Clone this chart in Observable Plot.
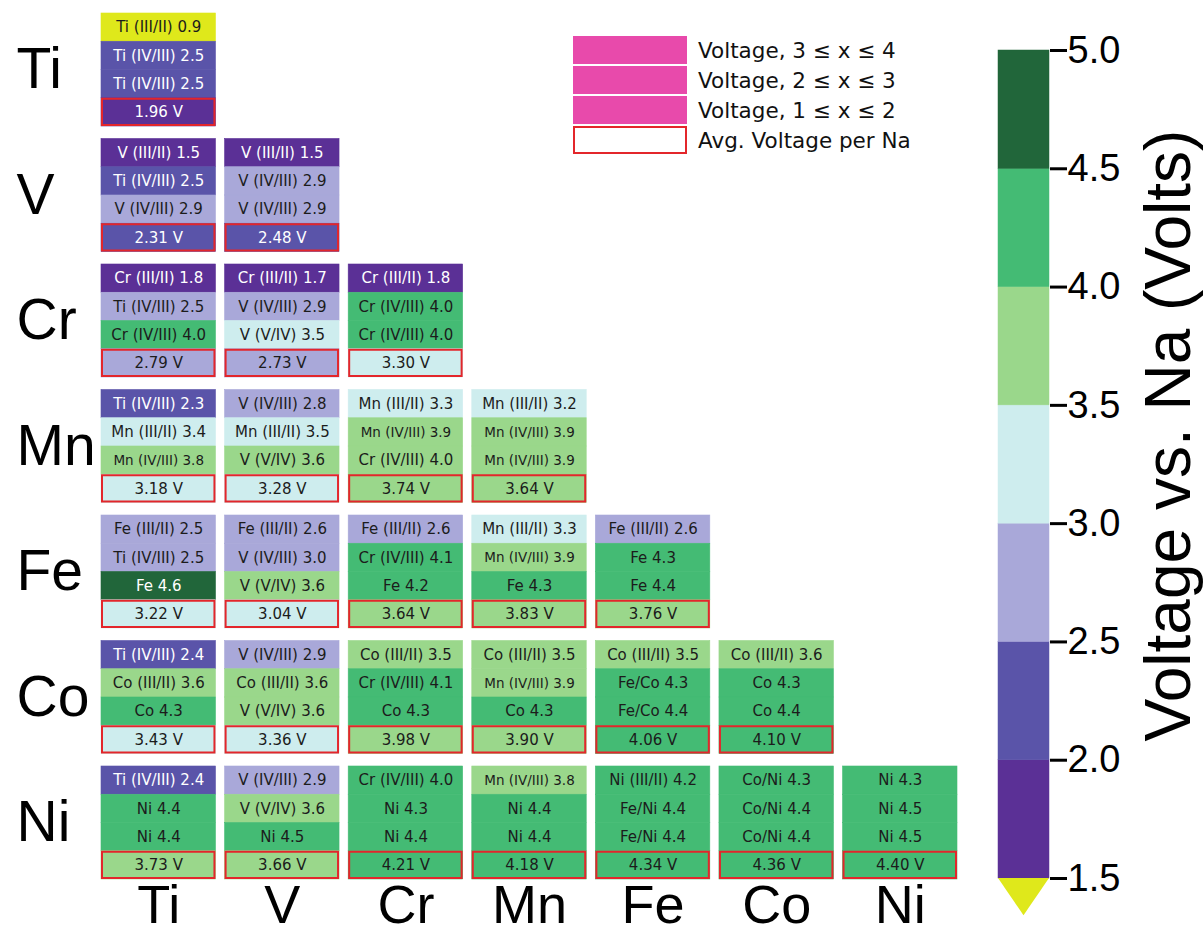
<!DOCTYPE html>
<html><head><meta charset="utf-8">
<script src="https://cdn.jsdelivr.net/npm/d3@7"></script>
<script src="https://cdn.jsdelivr.net/npm/@observablehq/plot@0.6"></script>
<style>
body{margin:0;background:#fff;}
#wrap{position:relative;width:1204px;height:937px;overflow:hidden;background:#fff;}
#main{position:absolute;left:0;top:0;}
#cbar{position:absolute;left:964px;top:0;}
#cbar svg{overflow:visible;}
#legend{position:absolute;left:573px;top:36px;font-family:"DejaVu Sans",sans-serif;font-size:21.5px;color:#111;}
.lrow{display:flex;align-items:center;height:28px;margin-bottom:2px;white-space:nowrap;}
.lbox{width:114px;height:28px;box-sizing:border-box;margin-right:11px;flex:none;}
</style></head><body>
<div id="wrap"><div id="main"></div><div id="legend"></div><div id="cbar"></div></div>
<script>
// ---------- data ----------
const elements = ["Ti", "V", "Cr", "Mn", "Fe", "Co", "Ni"];
const thresholds = [1.5, 2.0, 2.5, 3.0, 3.5, 4.0, 4.5];
const bandColors = ["#dfe81b", "#5b3096", "#5a54a9", "#a9a8d9", "#ceedee", "#9ad78b", "#44bb74", "#21663a"];
const cbarTicks = [1.5, 2.0, 2.5, 3.0, 3.5, 4.0, 4.5, 5.0];
const cbarTitle = "Voltage vs. Na (Volts)";
const legendLabels = ["Voltage, 3 ≤ x ≤ 4", "Voltage, 2 ≤ x ≤ 3", "Voltage, 1 ≤ x ≤ 2", "Avg. Voltage per Na"];
const legendFill = "#e84aab";
const avgStroke = "#e3262b";

// each entry: [column element, [[step label, voltage] x3], average voltage]
const rowTi = [
  ["Ti", [["Ti (III/II)", 0.9], ["Ti (IV/III)", 2.46], ["Ti (IV/III)", 2.46]], 1.96]
];
const rowV = [
  ["Ti", [["V (III/II)", 1.5], ["Ti (IV/III)", 2.46], ["V (IV/III)", 2.9]], 2.31],
  ["V",  [["V (III/II)", 1.5], ["V (IV/III)", 2.9], ["V (IV/III)", 2.9]], 2.48]
];
const rowCr = [
  ["Ti", [["Cr (III/II)", 1.8], ["Ti (IV/III)", 2.54], ["Cr (IV/III)", 4.02]], 2.79],
  ["V",  [["Cr (III/II)", 1.7], ["V (IV/III)", 2.9], ["V (V/IV)", 3.46]], 2.73],
  ["Cr", [["Cr (III/II)", 1.8], ["Cr (IV/III)", 4.02], ["Cr (IV/III)", 4.02]], 3.30]
];
const rowMn = [
  ["Ti", [["Ti (IV/III)", 2.3], ["Mn (III/II)", 3.4], ["Mn (IV/III)", 3.8]], 3.18],
  ["V",  [["V (IV/III)", 2.8], ["Mn (III/II)", 3.46], ["V (V/IV)", 3.6]], 3.28],
  ["Cr", [["Mn (III/II)", 3.3], ["Mn (IV/III)", 3.9], ["Cr (IV/III)", 3.96]], 3.74],
  ["Mn", [["Mn (III/II)", 3.2], ["Mn (IV/III)", 3.9], ["Mn (IV/III)", 3.9]], 3.64]
];
const rowFe = [
  ["Ti", [["Fe (III/II)", 2.54], ["Ti (IV/III)", 2.54], ["Fe", 4.6]], 3.22],
  ["V",  [["Fe (III/II)", 2.6], ["V (IV/III)", 2.96], ["V (V/IV)", 3.6]], 3.04],
  ["Cr", [["Fe (III/II)", 2.6], ["Cr (IV/III)", 4.1], ["Fe", 4.2]], 3.64],
  ["Mn", [["Mn (III/II)", 3.3], ["Mn (IV/III)", 3.9], ["Fe", 4.3]], 3.83],
  ["Fe", [["Fe (III/II)", 2.6], ["Fe", 4.3], ["Fe", 4.4]], 3.76]
];
const rowCo = [
  ["Ti", [["Ti (IV/III)", 2.4], ["Co (III/II)", 3.6], ["Co", 4.3]], 3.43],
  ["V",  [["V (IV/III)", 2.9], ["Co (III/II)", 3.6], ["V (V/IV)", 3.6]], 3.36],
  ["Cr", [["Co (III/II)", 3.52], ["Cr (IV/III)", 4.1], ["Co", 4.3]], 3.98],
  ["Mn", [["Co (III/II)", 3.52], ["Mn (IV/III)", 3.9], ["Co", 4.3]], 3.90],
  ["Fe", [["Co (III/II)", 3.52], ["Fe/Co", 4.3], ["Fe/Co", 4.4]], 4.06],
  ["Co", [["Co (III/II)", 3.6], ["Co", 4.3], ["Co", 4.4]], 4.10]
];
const rowNi = [
  ["Ti", [["Ti (IV/III)", 2.4], ["Ni", 4.4], ["Ni", 4.4]], 3.73],
  ["V",  [["V (IV/III)", 2.9], ["V (V/IV)", 3.6], ["Ni", 4.46]], 3.66],
  ["Cr", [["Cr (IV/III)", 4.02], ["Ni", 4.3], ["Ni", 4.4]], 4.21],
  ["Mn", [["Mn (IV/III)", 3.8], ["Ni", 4.4], ["Ni", 4.4]], 4.18],
  ["Fe", [["Ni (III/II)", 4.2], ["Fe/Ni", 4.4], ["Fe/Ni", 4.4]], 4.34],
  ["Co", [["Co/Ni", 4.3], ["Co/Ni", 4.4], ["Co/Ni", 4.4]], 4.36],
  ["Ni", [["Ni", 4.3], ["Ni", 4.46], ["Ni", 4.46]], 4.40]
];
const rows = {Ti: rowTi, V: rowV, Cr: rowCr, Mn: rowMn, Fe: rowFe, Co: rowCo, Ni: rowNi};

// ---------- build table ----------
const cells = [];
for (const r of elements) {
  for (const [col, steps, avg] of rows[r]) {
    steps.forEach(([name, v], i) => cells.push({fy: r, fx: col, y: i, v, label: `${name} ${v.toFixed(1)}`, avg: false, small: name.startsWith("Mn (IV/III)")}));
    cells.push({fy: r, fx: col, y: 3, v: avg, label: `${avg.toFixed(2)} V`, avg: true, small: false});
  }
}
const isLight = v => !((v >= 1.5 && v < 2.5) || v >= 4.5);
const textOpts = (extra) => ({fx: "fx", fy: "fy", y: "y", text: "label", fontFamily: "DejaVu Sans", fontSize: d => d.small ? 13.5 : 15, ...extra});

const main = Plot.plot({
  width: 1204, height: 937,
  marginLeft: 101, marginRight: 247, marginTop: 13, marginBottom: 58,
  fx: {domain: elements, paddingInner: 0.074, paddingOuter: 0, round: false, label: null},
  fy: {domain: elements, paddingInner: 0.0996, paddingOuter: 0, round: false, label: null},
  y: {domain: [0, 1, 2, 3], padding: 0, round: false, axis: null},
  color: {type: "threshold", domain: thresholds, range: bandColors},
  style: {fontFamily: "Liberation Sans, Arial, sans-serif", background: "white", color: "black"},
  marks: [
    Plot.cell(cells, {fx: "fx", fy: "fy", y: "y", fill: "v", stroke: "v", strokeWidth: 0.6, inset: 0}),
    Plot.cell(cells.filter(d => d.avg), {fx: "fx", fy: "fy", y: "y", fill: "none", stroke: avgStroke, strokeWidth: 2, inset: 1}),
    Plot.text(cells.filter(d => isLight(d.v)), textOpts({fill: "#1c1c1c"})),
    Plot.text(cells.filter(d => !isLight(d.v)), textOpts({fill: "white"})),
    Plot.axisFy({anchor: "left", tickSize: 0, tickPadding: 85, textAnchor: "start", fontSize: 57, label: null, fill: "black"}),
    Plot.axisFx({anchor: "bottom", tickSize: 0, tickPadding: 5, fontSize: 54, label: null, fill: "black"})
  ]
});
document.getElementById("main").appendChild(main);

// ---------- legend ----------
const leg = document.getElementById("legend");
legendLabels.forEach((t, i) => {
  const row = document.createElement("div");
  row.className = "lrow";
  const box = document.createElement("div");
  box.className = "lbox";
  if (i < 3) box.style.background = legendFill;
  else { box.style.background = "white"; box.style.border = `2px solid ${avgStroke}`; }
  const lab = document.createElement("span");
  lab.textContent = t;
  row.appendChild(box); row.appendChild(lab);
  leg.appendChild(row);
});

// ---------- colorbar ----------
const bands = cbarTicks.slice(0, -1).map((t, i) => ({y1: t, y2: cbarTicks[i + 1], mid: (t + cbarTicks[i + 1]) / 2}));
const lowTip = cbarTicks[0] - 0.157;
const tri = [{x: 0, y1: cbarTicks[0], y2: cbarTicks[0]}, {x: 0.5, y1: cbarTicks[0], y2: lowTip}, {x: 1, y1: cbarTicks[0], y2: cbarTicks[0]}];
const cbar = Plot.plot({
  width: 240, height: 937,
  marginLeft: 34, marginRight: 155, marginTop: 50, marginBottom: 59,
  x: {domain: [0, 1], axis: null},
  y: {domain: [cbarTicks[0], cbarTicks[cbarTicks.length - 1]], axis: null},
  color: {type: "threshold", domain: thresholds, range: bandColors},
  style: {fontFamily: "Liberation Sans, Arial, sans-serif", background: "transparent", overflow: "visible"},
  marks: [
    Plot.rect(bands, {x1: d => 0, x2: d => 1, y1: "y1", y2: "y2", fill: "mid", stroke: "mid", strokeWidth: 0.5}),
    Plot.areaY(tri, {x: "x", y1: "y1", y2: "y2", fill: bandColors[0]}),
    Plot.axisY({anchor: "right", ticks: cbarTicks, tickFormat: d => d.toFixed(1), tickSize: 17, tickPadding: 1, strokeWidth: 3, fontSize: 38, label: null, fill: "black", stroke: "black"}),
    Plot.text([cbarTitle], {frameAnchor: "middle", text: d => d, rotate: -90, dx: 146, dy: -29, fontSize: 64, fill: "black"})
  ]
});
document.getElementById("cbar").appendChild(cbar);
</script>
</body></html>
